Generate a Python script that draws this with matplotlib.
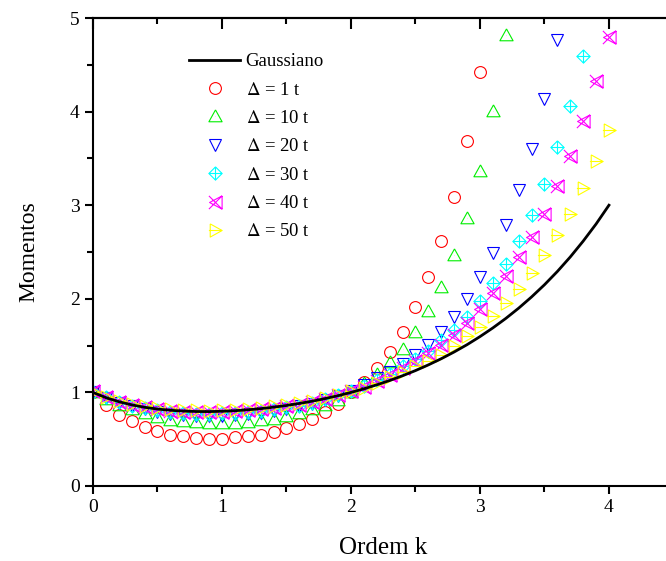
import numpy as np
import matplotlib
matplotlib.use("Agg")
import matplotlib.pyplot as plt
from matplotlib.path import Path

plt.rcParams['font.family'] = ['Liberation Serif', 'DejaVu Serif']
plt.rcParams['mathtext.fontset'] = 'stix'

# ordem k (passo 0.1)
k = np.round(np.arange(0, 41) * 0.1, 1)

# momentos da gaussiana
gauss = [1.000, 0.944, 0.901, 0.867, 0.841, 0.822, 0.809, 0.800, 0.796, 0.795,
         0.798, 0.804, 0.814, 0.826, 0.842, 0.860, 0.882, 0.906, 0.934, 0.965,
         1.000, 1.038, 1.081, 1.127, 1.178, 1.233, 1.294, 1.360, 1.432, 1.510,
         1.596, 1.689, 1.790, 1.900, 2.020, 2.150, 2.292, 2.447, 2.616, 2.799,
         3.000]

# momentos empiricos por escala
d1 = [1.00, 0.87, 0.76, 0.69, 0.63, 0.59, 0.55, 0.53, 0.51, 0.505,
      0.505, 0.52, 0.53, 0.55, 0.58, 0.62, 0.66, 0.72, 0.79, 0.88,
      1.00, 1.11, 1.26, 1.43, 1.65, 1.91, 2.23, 2.62, 3.09, 3.69,
      4.42]
d10 = [1.00, 0.93, 0.87, 0.82, 0.78, 0.74, 0.71, 0.69, 0.68, 0.67,
       0.67, 0.67, 0.68, 0.70, 0.72, 0.75, 0.78, 0.82, 0.87, 0.92,
       1.00, 1.10, 1.20, 1.32, 1.46, 1.64, 1.87, 2.13, 2.47, 2.86,
       3.37, 4.01, 4.82]
d20 = [1.00, 0.94, 0.89, 0.85, 0.82, 0.79, 0.77, 0.76, 0.75, 0.75,
       0.75, 0.76, 0.77, 0.78, 0.80, 0.82, 0.85, 0.88, 0.92, 0.96,
       1.01, 1.08, 1.15, 1.22, 1.30, 1.40, 1.51, 1.65, 1.81, 2.00,
       2.23, 2.49, 2.79, 3.16, 3.60, 4.13, 4.77]
d30 = [1.00, 0.95, 0.90, 0.86, 0.83, 0.81, 0.79, 0.78, 0.77, 0.77,
       0.78, 0.78, 0.79, 0.80, 0.82, 0.84, 0.86, 0.89, 0.93, 0.97,
       1.01, 1.07, 1.13, 1.20, 1.28, 1.36, 1.44, 1.56, 1.67, 1.81,
       1.98, 2.17, 2.37, 2.62, 2.90, 3.23, 3.62, 4.06, 4.59]
d40 = [1.01, 0.95, 0.90, 0.87, 0.84, 0.82, 0.80, 0.79, 0.79, 0.79,
       0.79, 0.80, 0.81, 0.82, 0.83, 0.85, 0.87, 0.90, 0.93, 0.97,
       1.01, 1.06, 1.12, 1.19, 1.26, 1.34, 1.42, 1.51, 1.61, 1.74,
       1.89, 2.06, 2.24, 2.45, 2.66, 2.91, 3.21, 3.53, 3.90, 4.33,
       4.80]
d50 = [1.00, 0.95, 0.91, 0.88, 0.85, 0.83, 0.82, 0.81, 0.81, 0.80,
       0.81, 0.81, 0.82, 0.83, 0.85, 0.87, 0.89, 0.91, 0.94, 0.97,
       1.01, 1.05, 1.10, 1.16, 1.22, 1.28, 1.34, 1.40, 1.50, 1.60,
       1.70, 1.82, 1.96, 2.11, 2.28, 2.47, 2.68, 2.91, 3.18, 3.47,
       3.80]

M, L = Path.MOVETO, Path.LINETO

def make_marker(segs):
    verts, codes = [], []
    for seg in segs:
        for i, p in enumerate(seg):
            verts.append(p)
            codes.append(M if i == 0 else L)
    return Path(verts, codes)

tri_up_dot = make_marker([[(0, 1), (-1, -0.8), (1, -0.8), (0, 1)], [(0, 0), (0.02, 0)]])
diam_plus = make_marker([[(0, 1), (1, 0), (0, -1), (-1, 0), (0, 1)],
                         [(0, 1), (0, -1)], [(-1, 0), (1, 0)]])
x_bow = make_marker([[(-1, -1), (1, 1)], [(-1, 1), (1, -1)],
                     [(1, 1), (-0.9, 0), (1, -1), (1, 1)]])
tri_right = make_marker([[(-0.8, 1), (1, 0), (-0.8, -1), (-0.8, 1)], [(-1, 0), (1, 0)]])

fig = plt.figure(figsize=(6.66, 5.61), dpi=100)
ax = fig.add_axes([0.1396, 0.1337, 0.8716, 0.8342])

ms = 8.5
mew = 0.8
ax.plot(k, gauss, color='black', lw=2, label='Gaussiano', zorder=3)
ax.plot(k[:len(d1)], d1, ls='none', marker='o', ms=ms, mfc='none', mec='red', mew=mew,
        label=r'$\Delta$ = 1 t')
ax.plot(k[:len(d10)], d10, ls='none', marker=tri_up_dot, ms=ms + 1, mfc='none', mec='#00ee00', mew=mew,
        label=r'$\Delta$ = 10 t')
ax.plot(k[:len(d20)], d20, ls='none', marker='v', ms=ms, mfc='none', mec='blue', mew=mew,
        label=r'$\Delta$ = 20 t')
ax.plot(k[:len(d30)], d30, ls='none', marker=diam_plus, ms=ms + 1, mfc='none', mec='cyan', mew=mew,
        label=r'$\Delta$ = 30 t')
ax.plot(k[:len(d40)], d40, ls='none', marker=x_bow, ms=ms + 1, mfc='none', mec='magenta', mew=mew,
        label=r'$\Delta$ = 40 t')
ax.plot(k[:len(d50)], d50, ls='none', marker=tri_right, ms=ms + 1, mfc='none', mec='yellow', mew=mew,
        label=r'$\Delta$ = 50 t')

ax.set_xlim(0, 4.5)
ax.set_ylim(0, 5)
ax.set_xticks([0, 1, 2, 3, 4])
ax.set_xticks([0.5, 1.5, 2.5, 3.5], minor=True)
ax.set_yticks([0, 1, 2, 3, 4, 5])
ax.set_yticks([0.5, 1.5, 2.5, 3.5, 4.5], minor=True)
ax.spines['right'].set_visible(False)
for s in ['left', 'bottom', 'top']:
    ax.spines[s].set_linewidth(1.5)
ax.tick_params(which='major', direction='out', length=6, width=1.5, labelsize=14)
ax.tick_params(which='minor', direction='out', length=4, width=1.5)

top = ax.secondary_xaxis('top')
top.set_xticks([0, 1, 2, 3, 4])
top.set_xticks([0.5, 1.5, 2.5, 3.5], minor=True)
top.set_xticklabels([])
top.tick_params(which='major', direction='in', length=8, width=1.5)
top.tick_params(which='minor', direction='in', length=4, width=1.5)
top.spines['top'].set_linewidth(1.5)

ax.set_xlabel('Ordem k', fontsize=18, labelpad=15)
ax.set_ylabel('Momentos', fontsize=17, labelpad=22)

ax.legend(loc='upper left', bbox_to_anchor=(0.15, 0.945), frameon=False, fontsize=13.5,
          handlelength=2.7, handletextpad=0.3, labelspacing=0.6, borderpad=0)

fig.savefig('out.png', dpi=100)
